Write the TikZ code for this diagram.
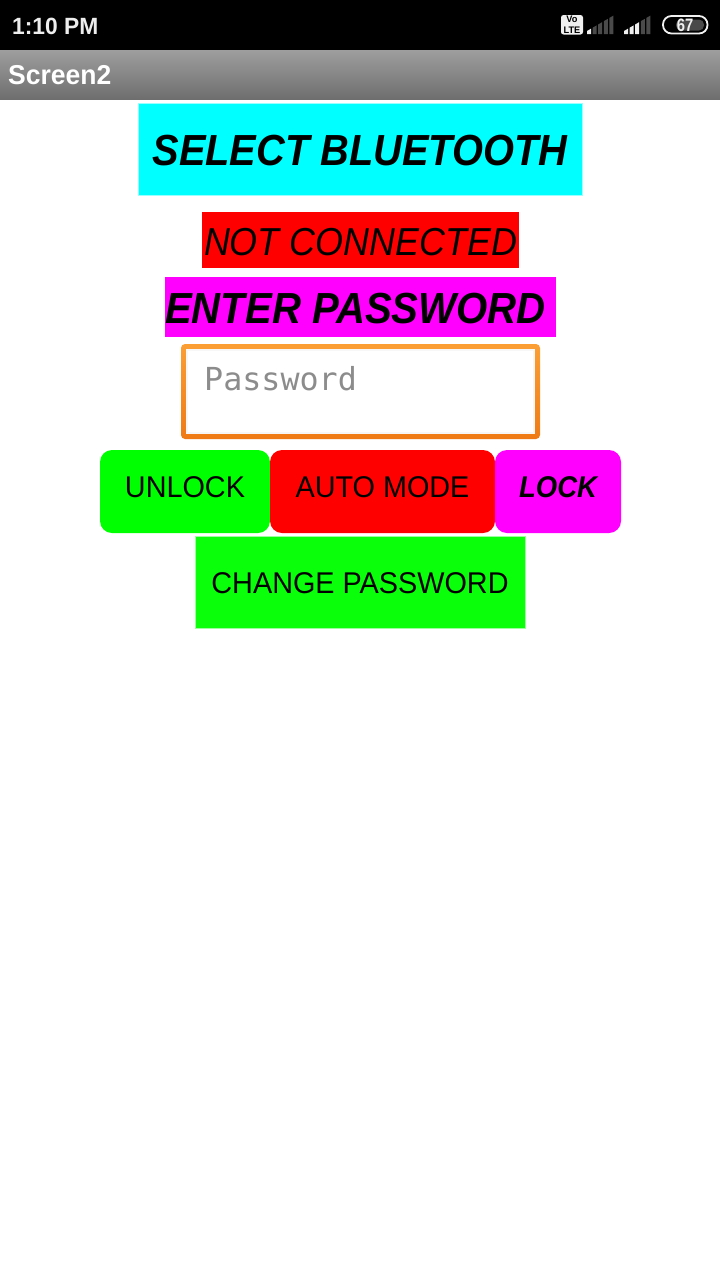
\documentclass[tikz,border=0pt]{standalone}
\usepackage{fontspec}
\setmainfont{Liberation Sans}[FakeStretch=.96, BoldFeatures={FakeStretch=.97}, ItalicFeatures={FakeStretch=.92}, BoldItalicFeatures={FakeStretch=.915}]
\setmonofont{DejaVu Sans Mono}
\usetikzlibrary{positioning,shadings}
\definecolor{btngreen}{HTML}{00FF00}
\definecolor{chgreen}{HTML}{0AFF0A}
\definecolor{lblcyan}{HTML}{00FFFF}
\definecolor{lblmagenta}{HTML}{FF00FF}
\definecolor{lblred}{HTML}{FF0000}
\definecolor{fieldtop}{HTML}{FB9F35}
\definecolor{fieldbot}{HTML}{EF7A15}
\definecolor{barlit}{HTML}{F0F0F0}
\definecolor{bardim}{HTML}{4A4A4A}
\newcommand{\fs}[1]{\fontsize{#1}{#1}\selectfont}

\begin{document}
\begin{tikzpicture}[
    x=1pt, y=-1pt,
    box/.style={rectangle, inner sep=0pt, outer sep=0pt},
    btn/.style={box, rounded corners=12pt, minimum height=83pt},
    caption/.style={inner sep=0pt, text=black},
    barlabel/.style={inner sep=0pt, anchor=west, text=white, font=\bfseries\fs{24}},
]
\useasboundingbox (0,0) rectangle (720,1280);
\fill[white] (0,0) rectangle (720,1280);

% Status bar and title bar
\fill[black] (0,0) rectangle (720,50);
\shade[top color=black!38, bottom color=black!57] (0,50) rectangle (720,99.6);
\node[barlabel, text=black!7, font=\bfseries\fs{23.5}] (clock) at (12,26) {1:10 PM};
\node[barlabel, font=\bfseries\fs{27.3}] (title) at (8,75) {Screen2};

% Status icons
\fill[barlit, rounded corners=2.5pt] (561,15) rectangle (583,34.5);
\node[inner sep=0pt, align=center, text=black, font=\bfseries\fs{9.5}] (volte) at (572,24.7) {Vo\\[1.5pt]LTE};
\foreach \s/\n in {587/1,624/3}
    \foreach \i in {1,...,5} {
        \pgfmathsetmacro{\xa}{\s+5.6*(\i-1)}
        \pgfmathsetmacro{\xb}{\xa+4}
        \pgfmathsetmacro{\ya}{31-16*(\xa-\s)/27.4}
        \pgfmathsetmacro{\yb}{31-16*(\xb-\s)/27.4}
        \pgfmathparse{\i<=\n ? "barlit" : "bardim"}
        \fill[\pgfmathresult] (\xa,34) -- (\xb,34) -- (\xb,\yb) -- (\xa,\ya) -- cycle;
    }
\draw[barlit, line width=1.8pt, rounded corners=8.5pt] (663,16) rectangle (707.5,33.5);
\fill[bardim, rounded corners=5pt] (676,19.5) rectangle (704,30.5);
\node[inner sep=0pt, xscale=.85, text=barlit, font=\bfseries\fs{18}] (battery) at (685,25) {67};

% Top labels
\node[box, fill=lblcyan, draw=lblcyan!40, line width=.6pt, minimum width=444pt, minimum height=92pt] (select) at (360,149) {};
\node[caption, font=\bfseries\itshape\fs{43.5}] (selecttext) at ([yshift=-1.3pt]select.center) {SELECT BLUETOOTH};
\node[box, fill=lblred, minimum width=317pt, minimum height=56pt] (status) at (360.5,240) {};
\node[caption, font=\itshape\fs{39}] (statustext) at ([yshift=-2pt]status.center) {NOT CONNECTED};
\node[box, fill=lblmagenta, minimum width=391pt, minimum height=60pt] (enter) at (360.5,307) {};
\node[caption, anchor=west, xscale=1.008, font=\bfseries\itshape\fs{43.5}] (entertext) at ([yshift=-2pt]enter.west) {ENTER PASSWORD};

% Password field
\shade[top color=fieldtop, bottom color=fieldbot, rounded corners=4pt] (181,344) rectangle (540,439);
\fill[white] (186,349) rectangle (535,434);
\draw[black!3, line width=2.5pt] (187.2,350.2) rectangle (533.8,432.8);
\node[caption, anchor=west, text=black!45, font=\ttfamily\fs{31.7}] (password) at (204,379) {Password};

% Buttons
\node[btn, fill=btngreen, minimum width=170pt] (unlock) at (185,491.5) {};
\node[btn, fill=lblred, minimum width=225pt, right=0pt of unlock] (automode) {};
\node[btn, fill=lblmagenta, minimum width=126pt, right=0pt of automode] (lock) {};
\node[caption, font=\fs{30}] (unlocktext) at ([yshift=4.5pt]unlock.center) {UNLOCK};
\node[caption, font=\fs{30}] (automodetext) at ([yshift=4.5pt]automode.center) {AUTO MODE};
\node[caption, font=\bfseries\itshape\fs{30}] (locktext) at ([yshift=4.5pt]lock.center) {LOCK};
\node[box, fill=chgreen, draw=chgreen!40, line width=.6pt, minimum width=330pt, minimum height=92pt] (change) at (360,582) {};
\node[caption, font=\fs{30}] (changetext) at ([yshift=-1pt]change.center) {CHANGE PASSWORD};

\end{tikzpicture}
\end{document}
